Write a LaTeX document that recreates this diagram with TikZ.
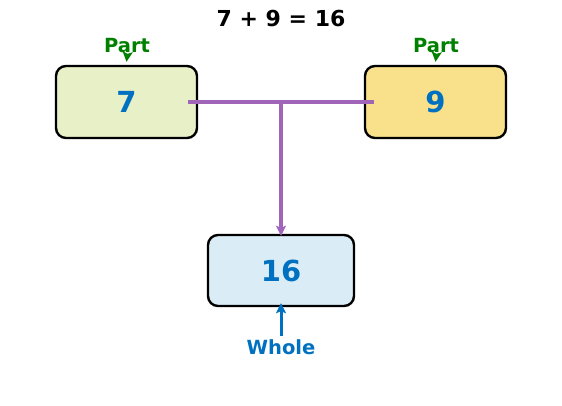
\documentclass[tikz,border=0pt]{standalone}
\usepackage{fontspec}
\setmainfont{DejaVu Sans}
\usetikzlibrary{arrows.meta}
\definecolor{partgreen}{RGB}{0,128,0}
\definecolor{numblue}{RGB}{0,112,192}
\definecolor{linepurple}{RGB}{160,100,185}
\definecolor{fillA}{RGB}{232,240,200}
\definecolor{fillB}{RGB}{248,225,138}
\definecolor{fillC}{RGB}{218,237,246}
\tikzset{
  numbox/.style={draw=black, line width=2.4pt, rounded corners=10pt, minimum width=141pt, minimum height=72pt, inner sep=0pt, text=numblue, font=\bfseries\fontsize{29}{31}\selectfont},
  lbl/.style={font=\bfseries\fontsize{19.5}{21}\selectfont, inner sep=0pt},
  tip/.style={-{Stealth[length=10pt,width=10pt,inset=2pt]}},
}
\begin{document}
\begin{tikzpicture}[x=1pt,y=-1pt]
\useasboundingbox (0,0) rectangle (562,406);
\node[lbl, font=\bfseries\fontsize{22}{24}\selectfont] (title) at (281,19) {7 + 9 = 16};
\node[numbox, fill=fillA] (a) at (126.5,102) {7};
\node[numbox, fill=fillB] (b) at (435.5,102) {9};
\node[numbox, fill=fillC, minimum width=146pt, minimum height=71pt] (c) at (281,270.5) {16};
\node[lbl, text=partgreen] (pa) at (127,46) {Part};
\node[lbl, text=partgreen] (pb) at (436,46) {Part};
\node[lbl, text=numblue] (w) at (281,347) {Whole};
\coordinate (la) at (188,102);
\coordinate (lb) at (374,102);
\coordinate (j) at (281,102);
\draw[linepurple, line width=3.2pt] (la) -- (lb);
\draw[linepurple, line width=3.2pt, tip] (j) -- ([yshift=-2pt]c.north);
\draw[partgreen, line width=2.8pt, tip] ([yshift=-4pt]pa.south) -- ([yshift=3pt]a.north);
\draw[partgreen, line width=2.8pt, tip] ([yshift=-4pt]pb.south) -- ([yshift=3pt]b.north);
\draw[numblue, line width=3pt, tip] ([yshift=3pt]w.north) -- ([yshift=4pt]c.south);
\end{tikzpicture}
\end{document}
